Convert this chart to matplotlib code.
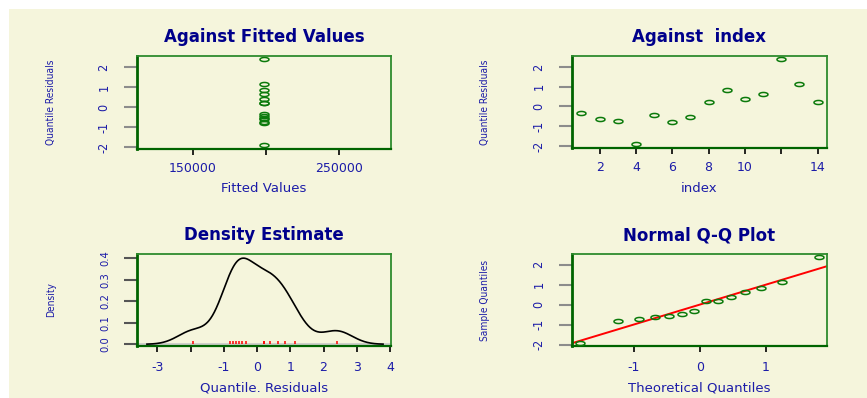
import numpy as np
import matplotlib
matplotlib.use('Agg')
import matplotlib.pyplot as plt
from matplotlib.path import Path
from matplotlib.patches import Rectangle
from matplotlib import font_manager
from statistics import NormalDist

# quantile residuals
resid = np.array([-0.33, -0.62, -0.73, -1.92, -0.45, -0.80, -0.55,
                  0.20, 0.85, 0.38, 0.63, 2.40, 1.13, 0.20])
index = np.arange(1, 15)
fitted = np.full(14, 198750.0)

fitted_ticks = [150000, 200000, 250000]
fitted_labels = ['150000', '', '250000']
index_ticks = [2, 4, 6, 8, 10, 12, 14]
index_labels = ['2', '4', '6', '8', '10', '', '14']
dens_ticks = [-3, -2, -1, 0, 1, 2, 3, 4]
dens_labels = ['-3', '', '-1', '0', '1', '2', '3', '4']
dens_yticks = [0.0, 0.1, 0.2, 0.3, 0.4]
dens_ylabels = ['0.0', '0.1', '0.2', '0.3', '0.4']
qq_ticks = [-1, 0, 1]
res_ticks = [-2, -1, 0, 1, 2]

plt.rcParams['axes.unicode_minus'] = False

# narrow face for the rotated texts, if one is installed
names = {f.name for f in font_manager.fontManager.ttflist}
if 'Liberation Sans Narrow' in names:
    narrow = dict(family='Liberation Sans Narrow')
else:
    narrow = dict(family='DejaVu Sans', stretch='condensed')

BG = '#F5F5DC'
NAVY = '#00008B'
BLUE = '#1C1CA8'
PTS = '#0B7A0B'

t = np.linspace(0, 2 * np.pi, 60)
ellipse = Path(np.column_stack([np.cos(t), 0.45 * np.sin(t)]))

fig = plt.figure(figsize=(8.67, 3.98), dpi=100, facecolor='white')
fig.patches.append(Rectangle((9 / 867, 0), 1, 1 - 9 / 398, transform=fig.transFigure,
                             facecolor=BG, edgecolor='none', zorder=-10))


def panel(rect, title, xlabel, ylabel, xpad):
    ax = fig.add_axes(rect)
    ax.set_facecolor(BG)
    for s in ['top', 'right']:
        ax.spines[s].set_color('#2E8B2E')
        ax.spines[s].set_linewidth(1.3)
    for s in ['left', 'bottom']:
        ax.spines[s].set_color('#006400')
        ax.spines[s].set_linewidth(1.6)
    ax.spines['left'].set_linewidth(2.0)
    ax.set_title(title, fontsize=12, fontweight='bold', color=NAVY, pad=10)
    ax.tick_params(axis='x', length=4.5, width=1.2, color='black', labelsize=9,
                   labelcolor=BLUE, pad=xpad)
    ax.tick_params(axis='y', length=9.5, width=1.5, color='#8C8C8C', labelcolor=BLUE,
                   pad=9.5, labelrotation=90)
    ax.set_xlabel(xlabel, fontsize=9.5, color=BLUE, va='center')
    ax.set_ylabel(ylabel, fontsize=7.3, color=BLUE, va='center', **narrow)
    return ax


def style_yticks(ax, size):
    for lab in ax.get_yticklabels():
        lab.set_fontsize(size)
        lab.set_fontfamily(narrow['family'])
        if 'stretch' in narrow:
            lab.set_fontstretch(narrow['stretch'])
        lab.set_va('center')


# Against Fitted Values
ax1 = panel([137 / 867, 1 - 149 / 398, 254 / 867, 93 / 398],
            'Against Fitted Values', 'Fitted Values', 'Quantile Residuals', 5)
ax1.plot(fitted, resid, linestyle='none', marker=ellipse, ms=6.5, mfc='none',
         mec=PTS, mew=1.1)
ax1.set_xlim(112000, 285500)
ax1.set_ylim(-2.1, 2.55)
ax1.set_xticks(fitted_ticks, fitted_labels)
ax1.set_yticks(res_ticks)
style_yticks(ax1, 9)
ax1.xaxis.set_label_coords(0.5, -0.43)
ax1.yaxis.set_label_coords(-0.339, 0.5)

# Against index
ax2 = panel([572 / 867, 1 - 148 / 398, 255 / 867, 92 / 398],
            'Against  index', 'index', 'Quantile Residuals', 5)
ax2.plot(index, resid, linestyle='none', marker=ellipse, ms=6.5, mfc='none',
         mec=PTS, mew=1.1)
ax2.set_xlim(0.48, 14.52)
ax2.set_ylim(-2.1, 2.55)
ax2.set_xticks(index_ticks, index_labels)
ax2.set_yticks(res_ticks)
style_yticks(ax2, 9)
ax2.xaxis.set_label_coords(0.5, -0.44)
ax2.yaxis.set_label_coords(-0.341, 0.5)

# Density Estimate (gaussian kernel, bw.nrd0)
n = len(resid)
iqr = np.percentile(resid, 75) - np.percentile(resid, 25)
bw = 0.9 * min(resid.std(ddof=1), iqr / 1.34) * n ** -0.2
xs = np.linspace(resid.min() - 3 * bw, resid.max() + 3 * bw, 512)
dens = np.exp(-0.5 * ((xs[:, None] - resid[None, :]) / bw) ** 2).sum(axis=1) / (n * bw * np.sqrt(2 * np.pi))

ax3 = panel([137 / 867, 1 - 346 / 398, 254 / 867, 92 / 398],
            'Density Estimate', 'Quantile. Residuals', 'Density', 6.5)
ax3.axhline(0, color='#C8C8C8', lw=1.2, zorder=1)
ax3.plot(xs, dens, color='black', lw=1.2, zorder=3)
ax3.vlines(resid, 0, 0.017, color='red', lw=1.1, zorder=4)
ax3.set_xlim(-3.61, 4.03)
ax3.set_ylim(-0.008, 0.42)
ax3.set_xticks(dens_ticks, dens_labels)
ax3.set_yticks(dens_yticks, dens_ylabels)
ax3.tick_params(axis='y', color='#555555')
style_yticks(ax3, 8)
ax3.xaxis.set_label_coords(0.5, -0.457)
ax3.yaxis.set_label_coords(-0.339, 0.5)

# Normal Q-Q Plot
probs = (np.arange(1, n + 1) - 0.5) / n
theo = np.array([NormalDist().inv_cdf(p) for p in probs])
ax4 = panel([572 / 867, 1 - 346 / 398, 255 / 867, 92 / 398],
            'Normal Q-Q Plot', 'Theoretical Quantiles', 'Sample Quantiles', 6.5)
ax4.plot(theo, np.sort(resid), linestyle='none', marker=ellipse, ms=6.5, mfc='none',
         mec=PTS, mew=1.1, zorder=3)
ax4.axline((0, 0), slope=1, color='red', lw=1.4, zorder=2)
ax4.set_xlim(-1.93, 1.92)
ax4.set_ylim(-2.07, 2.53)
ax4.set_xticks(qq_ticks)
ax4.set_yticks(res_ticks)
style_yticks(ax4, 9)
ax4.xaxis.set_label_coords(0.5, -0.457)
ax4.yaxis.set_label_coords(-0.341, 0.5)

fig.savefig('out.png', dpi=100, facecolor='white')
